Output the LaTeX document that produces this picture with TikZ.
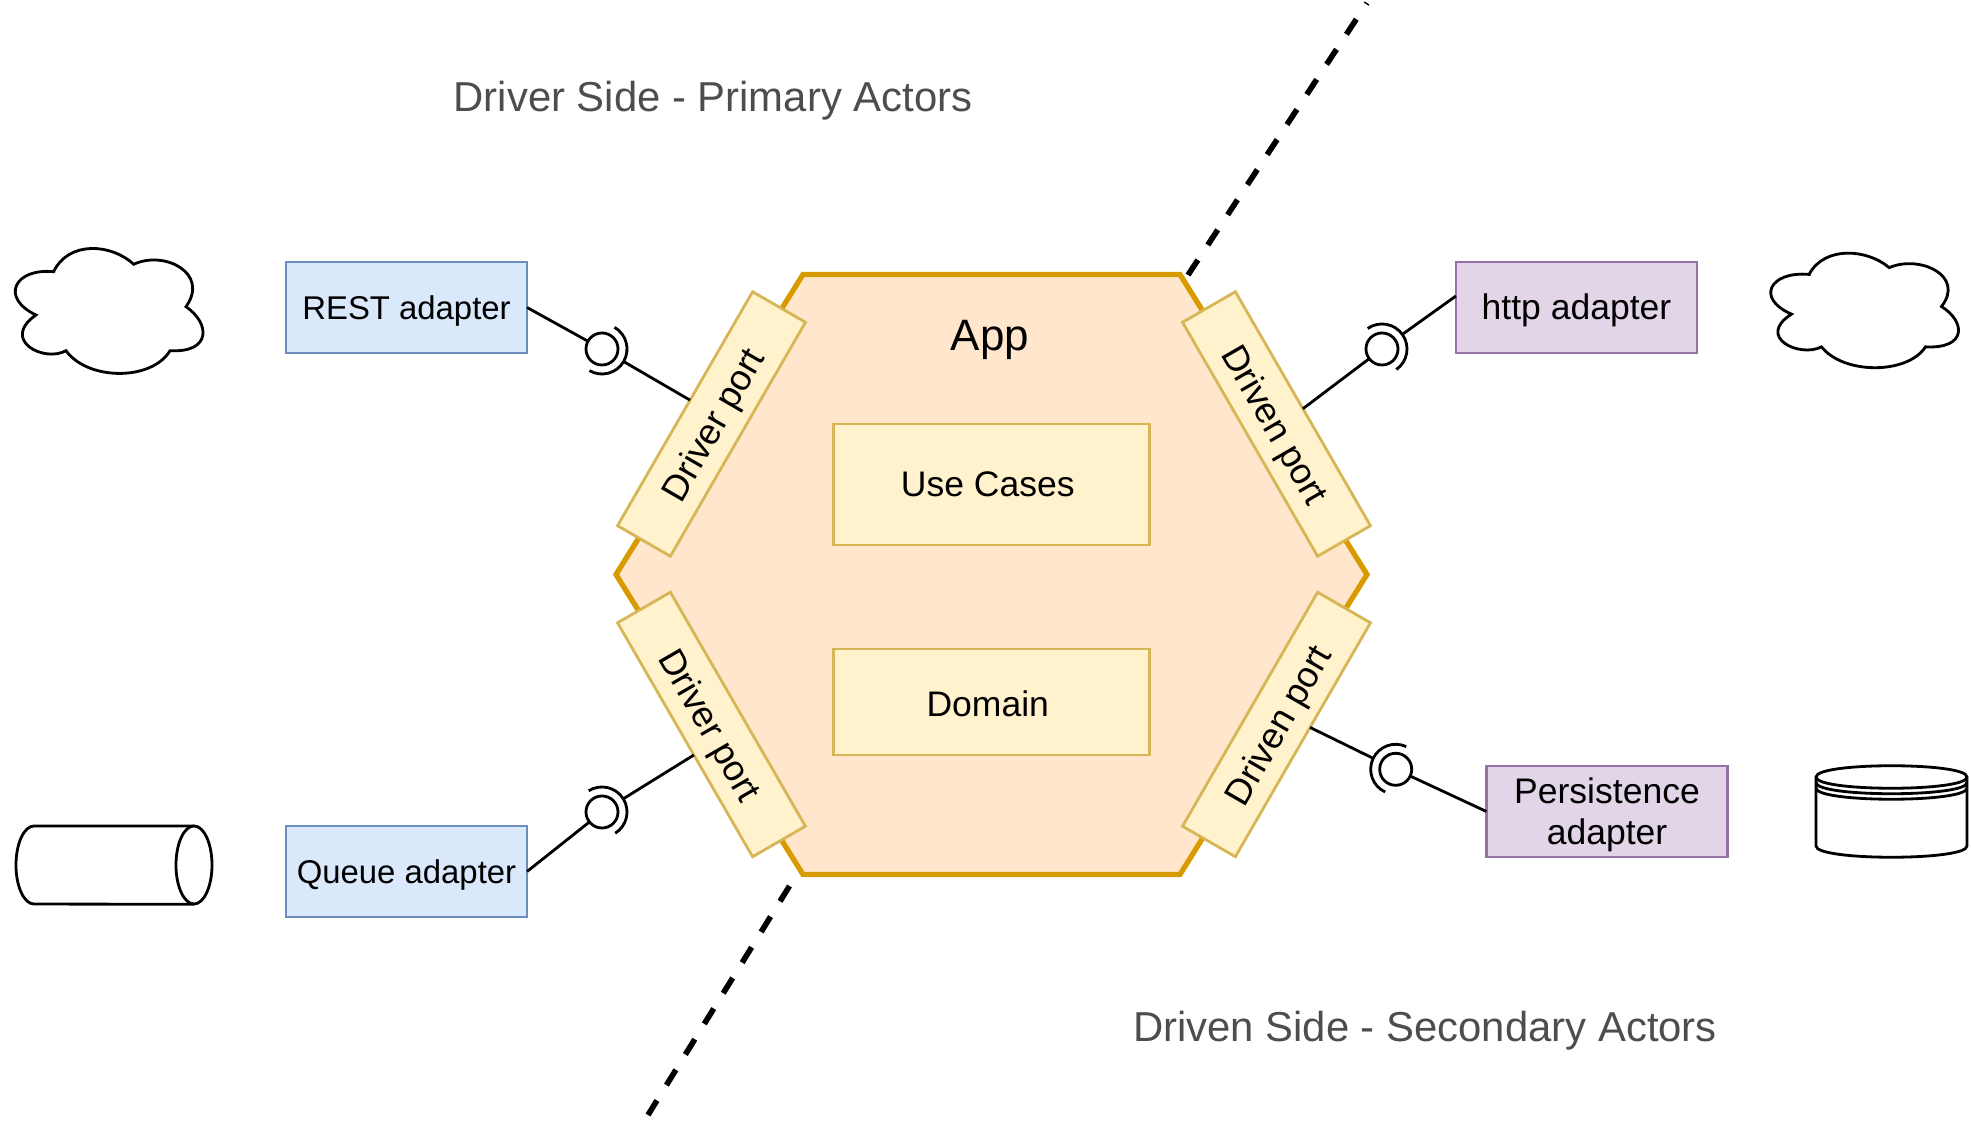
\documentclass[tikz,border=0pt]{standalone}
\usepackage{fontspec}
\setmainfont{Liberation Sans}
\usepackage{xcolor}
\usetikzlibrary{calc, positioning}
\definecolor{hexfill}{HTML}{FFE6CC}
\definecolor{hexline}{HTML}{D79B00}
\definecolor{portfill}{HTML}{FFF2CC}
\definecolor{portline}{HTML}{D6B656}
\definecolor{drvfill}{HTML}{DAE8FC}
\definecolor{drvline}{HTML}{6C8EBF}
\definecolor{dbfill}{HTML}{E1D5E7}
\definecolor{dbline}{HTML}{9673A6}
\definecolor{sidetext}{HTML}{4D4D4D}
\tikzset{
	block/.style={rectangle, draw, line width=0.8pt, inner sep=0pt, outer sep=0pt, align=center, text height=7.1pt, text depth=0pt, font=\fontsize{10.1}{11.9}\selectfont},
	portbox/.style={block, draw=portline, fill=portfill, minimum width=2.7cm, minimum height=0.61cm, text height=7.8pt, font=\fontsize{10.3}{12}\selectfont},
	innerbox/.style={block, draw=portline, fill=portfill, minimum width=3.16cm},
	driverbox/.style={block, draw=drvline, fill=drvfill, minimum width=2.41cm, minimum height=0.91cm, font=\fontsize{9.35}{11}\selectfont},
	drivenbox/.style={block, draw=dbline, fill=dbfill, minimum width=2.41cm, minimum height=0.91cm},
	sidelabel/.style={text=sidetext, font=\fontsize{11.9}{14}\selectfont},
	socket/.style={circle, draw, line width=0.8pt, fill=white, minimum size=0.32cm, inner sep=0pt, outer sep=0pt},
	cup/.style={circle, minimum size=0.5cm, inner sep=0pt, outer sep=0pt},
	wire/.style={draw, line width=0.8pt},
	cut/.style={draw, line width=1.6pt, dash pattern=on 0.18cm off 0.18cm},
	icon/.style={draw, line width=0.8pt, fill=white},
	cloudicon/.pic={
		\path[icon] (39.6,23.7) .. controls (55,-8) and (98,-4) .. (119.7,16.3)
			.. controls (150,2) and (196,25) .. (172,58.7)
			.. controls (196,75) and (198,105) .. (156,102.7)
			.. controls (138,133) and (74,133) .. (52,102.7)
			.. controls (30,115) and (-14,92) .. (22,67)
			.. controls (-14,50) and (0,20) .. cycle;
	}
}

\begin{document}
\begin{tikzpicture}[x=0.01cm, y=-0.01cm]
	\useasboundingbox (0,0) rectangle (1971,1122);
	
	% Dashed line between the two sides
	\coordinate (cutA) at (1188,275);
	\coordinate (cutB) at (1367,3);
	\coordinate (cutC) at (789.5,886);
	\coordinate (cutD) at (648,1115);
	\path[cut] (cutA) -- (cutB);
	\path[cut] (cutC) -- (cutD);
	
	% Hexagon of the app
	\path[draw=hexline, fill=hexfill, line width=1.5pt] (803,274.5) -- (1180,274.5) -- (1367,574.5) -- (1180,874.5) -- (803,874.5) -- (616,574.5) -- cycle;
	\node (app) [font=\fontsize{12.5}{15}\selectfont] at (990,340) {App};
	\node (usecases) [innerbox, minimum height=1.21cm] at (991.3,484.5) {Use Cases\hspace{2pt}};
	\node (domain) [innerbox, minimum height=1.06cm, text height=8.4pt] at (991.3,702) {Domain\hspace{2pt}};
	
	% Ports on the hexagon
	\node (portA) [portbox, rotate=60] at (711.5,424) {Driver port};
	\node (portB) [portbox, rotate=-60] at (1276.5,424) {Driven port};
	\node (portC) [portbox, rotate=-60] at (711.5,724.5) {Driver port};
	\node (portD) [portbox, rotate=60] at (1276.5,724.5) {Driven port};
	
	% Adapters
	\node (rest) [driverbox] at (406.5,307.5) {REST adapter};
	\node (queue) [driverbox] at (406.5,871.5) {Queue adapter};
	\node (http) [drivenbox] at (1576.5,307.5) {http adapter};
	\node (persist) [drivenbox, text height=19.05pt] at (1607,811.5) {Persistence\\adapter};
	
	% Sockets between adapters and ports
	\node (sockA) [socket] at (602,349) {};
	\node (cupA) [cup] at (602,349) {};
	\node (sockB) [socket] at (1382,349) {};
	\node (cupB) [cup] at (1382,349) {};
	\node (sockC) [socket] at (602,812) {};
	\node (cupC) [cup] at (602,812) {};
	\node (sockD) [socket] at (1395.7,769.3) {};
	\node (cupD) [cup] at (1395.7,769.3) {};
	
	% Connecting lines
	\path[wire] (rest.east) -- (sockA);
	\path[wire] (cupA) -- (portA.72);
	\path[wire] (cupA.60) arc[start angle=60, end angle=-120, radius=0.25cm];
	\path[wire] (portB.north) -- (sockB);
	\path[wire] (cupB) -- (http.west |- 0,296);
	\path[wire] (cupB.125) arc[start angle=125, end angle=-55, radius=0.25cm];
	\path[wire] (queue.east) -- (sockC);
	\path[wire] (cupC) -- (portC.-60);
	\path[wire] (cupC.122) arc[start angle=122, end angle=-58, radius=0.25cm];
	\path[wire] (persist.west) -- (sockD);
	\path[wire] (cupD) -- (portD.-65);
	\path[wire] (cupD.65) arc[start angle=65, end angle=245, radius=0.25cm];
	
	% Actors
	\pic at (14,248) {cloudicon};
	\pic[yscale=0.917] at (1769.5,252.7) {cloudicon};
	\path[icon] (194,826) -- (34,826) arc[start angle=90, end angle=270, x radius=0.18cm, y radius=0.39cm] -- (194,904.3);
	\path[icon] (194,865) ellipse[x radius=0.18cm, y radius=0.39cm];
	\path[icon] (1816,777) .. controls (1816,762) and (1967,762) .. (1967,777) -- (1967,846)
		.. controls (1967,861) and (1816,861) .. (1816,846) -- cycle;
	\foreach \ytop in {777,782.5,788}
		\path[draw, line width=0.8pt] (1816,\ytop) .. controls (1816,\ytop+15) and (1967,\ytop+15) .. (1967,\ytop);
	
	% Side labels
	\node (driverside) [sidelabel] at (713,101) {Driver Side - Primary Actors};
	\node (drivenside) [sidelabel] at (1425,1030.5) {Driven Side - Secondary Actors};
\end{tikzpicture}
\end{document}
